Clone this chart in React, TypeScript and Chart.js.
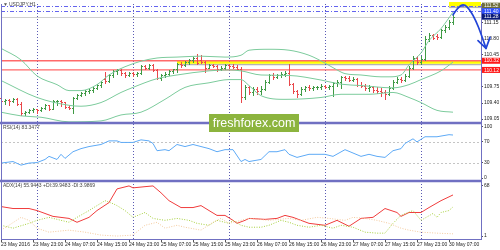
import React, { useEffect, useRef } from 'react';
import { Chart, registerables } from 'chart.js';

Chart.register(...registerables);

// ---------- time axis ----------
const tickBars = [0, 8, 16, 24, 32, 40, 48, 56, 64, 72, 80, 88, 96, 104, 112];
const tickLabels = ['23 May 2016', '23 May 23:00', '24 May 07:00', '24 May 15:00', '24 May 23:00', '25 May 07:00', '25 May 15:00', '25 May 23:00', '26 May 07:00', '26 May 15:00', '26 May 23:00', '27 May 07:00', '27 May 15:00', '27 May 23:00', '30 May 07:00'];
const separatorBars = [9, 33, 57, 81, 105];

// ---------- USDJPY H1 bars ----------
const opens = [109.51, 109.44, 109.47, 109.45, 109.49, 109.37, 109.18, 109.21, 109.25, 109.26, 109.24, 109.29, 109.35, 109.27, 109.44, 109.45, 109.42, 109.31, 109.30, 109.51, 109.58, 109.62, 109.66, 109.68, 109.73, 109.79, 109.92, 109.87, 110.00, 110.10, 110.12, 110.05, 110.01, 110.05, 110.03, 110.06, 110.20, 110.16, 110.22, 110.12, 109.95, 110.02, 110.04, 110.10, 110.13, 110.24, 110.22, 110.29, 110.33, 110.38, 110.33, 110.30, 110.17, 110.22, 110.21, 110.13, 110.17, 110.23, 110.21, 110.18, 110.15, 109.53, 109.74, 109.64, 109.70, 109.66, 109.71, 109.86, 110.00, 109.96, 110.00, 110.04, 110.06, 109.82, 109.66, 109.60, 109.71, 109.75, 109.72, 109.74, 109.75, 109.78, 109.74, 109.78, 109.84, 109.86, 109.96, 109.95, 109.91, 109.93, 109.80, 109.78, 109.72, 109.75, 109.68, 109.66, 109.63, 109.60, 109.73, 109.86, 109.92, 109.90, 109.99, 110.17, 110.38, 110.30, 110.36, 110.80, 110.88, 110.86, 110.83, 110.98, 111.06, 111.16];
const highs = [109.53, 109.49, 109.49, 109.51, 109.50, 109.42, 109.23, 109.27, 109.29, 109.27, 109.31, 109.37, 109.36, 109.47, 109.47, 109.46, 109.43, 109.36, 109.53, 109.60, 109.64, 109.68, 109.70, 109.75, 109.81, 109.88, 110.08, 110.03, 110.12, 110.14, 110.14, 110.08, 110.07, 110.08, 110.07, 110.23, 110.22, 110.25, 110.24, 110.13, 110.04, 110.07, 110.12, 110.15, 110.27, 110.30, 110.32, 110.36, 110.41, 110.47, 110.45, 110.32, 110.24, 110.24, 110.22, 110.20, 110.25, 110.26, 110.25, 110.22, 110.19, 109.79, 109.78, 109.75, 109.74, 109.76, 109.90, 110.03, 110.06, 110.04, 110.07, 110.10, 110.25, 109.84, 109.68, 109.74, 109.78, 109.79, 109.77, 109.78, 109.81, 109.80, 109.80, 109.86, 109.90, 109.99, 109.99, 109.98, 109.96, 109.94, 109.86, 109.82, 109.79, 109.78, 109.74, 109.72, 109.69, 109.76, 109.90, 109.96, 109.96, 110.03, 110.20, 110.42, 110.43, 110.42, 110.86, 110.92, 110.90, 110.90, 111.02, 111.10, 111.20, 111.35];
const lows = [109.38, 109.38, 109.36, 109.42, 109.35, 109.13, 109.14, 109.19, 109.21, 109.19, 109.22, 109.26, 109.24, 109.26, 109.36, 109.34, 109.29, 109.27, 109.18, 109.49, 109.55, 109.58, 109.62, 109.65, 109.70, 109.75, 109.84, 109.86, 109.97, 110.03, 110.02, 109.97, 109.98, 109.98, 109.99, 110.04, 110.14, 110.14, 110.10, 109.92, 109.90, 109.97, 110.01, 110.05, 110.08, 110.19, 110.20, 110.25, 110.30, 110.25, 110.27, 110.08, 110.16, 110.18, 110.10, 110.11, 110.15, 110.17, 110.16, 110.13, 109.42, 109.48, 109.60, 109.57, 109.60, 109.60, 109.68, 109.84, 109.93, 109.94, 109.97, 109.98, 109.80, 109.62, 109.52, 109.57, 109.66, 109.68, 109.69, 109.70, 109.71, 109.72, 109.71, 109.56, 109.78, 109.72, 109.90, 109.88, 109.88, 109.77, 109.74, 109.68, 109.66, 109.64, 109.62, 109.56, 109.48, 109.58, 109.70, 109.84, 109.86, 109.87, 109.97, 110.15, 110.24, 110.26, 110.33, 110.76, 110.79, 110.80, 110.82, 110.94, 111.02, 111.12];
const closes = [109.44, 109.47, 109.45, 109.49, 109.37, 109.18, 109.21, 109.25, 109.26, 109.24, 109.29, 109.35, 109.27, 109.44, 109.45, 109.42, 109.31, 109.30, 109.51, 109.58, 109.62, 109.66, 109.68, 109.73, 109.79, 109.86, 109.87, 110.00, 110.10, 110.12, 110.05, 110.01, 110.05, 110.03, 110.06, 110.20, 110.16, 110.22, 110.12, 109.95, 110.02, 110.04, 110.10, 110.13, 110.24, 110.22, 110.29, 110.33, 110.38, 110.28, 110.30, 110.17, 110.22, 110.21, 110.13, 110.17, 110.23, 110.21, 110.18, 110.15, 109.53, 109.74, 109.64, 109.70, 109.66, 109.71, 109.86, 110.00, 109.96, 110.00, 110.04, 110.06, 109.82, 109.66, 109.60, 109.71, 109.75, 109.72, 109.74, 109.75, 109.78, 109.74, 109.78, 109.84, 109.86, 109.96, 109.95, 109.91, 109.93, 109.80, 109.78, 109.72, 109.75, 109.68, 109.66, 109.63, 109.60, 109.73, 109.86, 109.92, 109.90, 109.99, 110.17, 110.38, 110.30, 110.35, 110.80, 110.88, 110.82, 110.83, 110.98, 111.06, 111.16, 111.28];

// ---------- Bollinger bands ----------
const upperBars = [0, 5, 9, 14, 17, 20, 24, 27, 31, 35, 39, 44, 50, 56, 60, 62, 67, 72, 77, 81, 84, 86, 90, 95, 97, 100, 102, 105, 107, 110, 113];
const upperValues = [110.59, 110.34, 109.99, 109.80, 109.67, 109.67, 109.80, 110.01, 110.19, 110.31, 110.38, 110.40, 110.42, 110.40, 110.44, 110.55, 110.57, 110.55, 110.44, 110.27, 110.12, 110.04, 110.01, 109.97, 109.97, 110.01, 110.23, 110.49, 110.76, 111.02, 111.38];
const middleBars = [0, 9, 17, 20, 25, 30, 33, 39, 44, 52, 57, 60, 65, 72, 80, 85, 90, 98, 102, 105, 110, 113];
const middleValues = [109.89, 109.52, 109.35, 109.33, 109.41, 109.63, 109.74, 109.93, 110.01, 110.10, 110.12, 110.10, 110.01, 110.00, 109.90, 109.81, 109.78, 109.73, 109.80, 109.91, 110.10, 110.29];
const lowerBars = [0, 5, 10, 17, 25, 30, 35, 41, 46, 52, 57, 60, 62, 65, 71, 80, 85, 92, 98, 102, 105, 109, 113];
const lowerValues = [109.20, 109.12, 109.09, 108.99, 109.01, 109.14, 109.20, 109.48, 109.74, 109.84, 109.91, 109.91, 109.78, 109.56, 109.48, 109.52, 109.59, 109.59, 109.63, 109.52, 109.41, 109.24, 109.20];

// ---------- RSI(14) ----------
const rsiBars = [0, 3, 5, 7, 9, 11, 12, 14, 15, 16, 18, 20, 22, 25, 27, 29, 30, 33, 35, 37, 38, 39, 41, 42, 44, 46, 48, 50, 52, 54, 56, 58, 60, 61, 62, 65, 67, 69, 71, 72, 74, 77, 79, 81, 83, 86, 90, 92, 94, 96, 98, 100, 101, 103, 104, 106, 109, 112, 113];
const rsiValues = [29, 32, 25, 29, 30, 36, 42, 36, 46, 38, 51, 57, 61, 65, 72, 72, 69, 69, 74, 72, 67, 53, 55, 53, 65, 61, 65, 61, 57, 51, 55, 55, 32, 36, 32, 36, 51, 51, 55, 46, 40, 46, 46, 46, 42, 55, 42, 46, 42, 40, 53, 57, 67, 76, 70, 80, 80, 84, 83.35];

// ---------- ADX(14) ----------
const adxBars = [0, 3, 7, 9, 11, 13, 17, 19, 22, 24, 27, 29, 32, 33, 36, 38, 40, 42, 45, 48, 50, 52, 54, 56, 58, 59, 61, 62, 66, 69, 71, 73, 77, 81, 84, 87, 90, 93, 96, 99, 100, 102, 105, 107, 110, 113];
const adxValues = [40.4, 37.8, 37.8, 35.1, 31.2, 27.3, 24.6, 19.4, 26, 35.1, 45.7, 64, 68, 65.4, 67, 68, 58.8, 48.3, 39.1, 39.1, 41.7, 35.1, 28.6, 28.6, 22, 18, 22, 24.6, 23.3, 24.6, 28.6, 26, 18, 15.4, 22, 14.1, 24.6, 26, 37.8, 32.5, 27.3, 32.5, 32.5, 39.1, 48.3, 55.94];
const pdiBars = [0, 3, 7, 9, 12, 17, 19, 22, 24, 26, 28, 29, 31, 33, 36, 38, 41, 44, 47, 49, 52, 54, 57, 58, 60, 62, 65, 67, 70, 72, 74, 77, 80, 83, 85, 88, 91, 94, 96, 98, 100, 103, 105, 108, 109, 110, 112, 113];
const pdiValues = [15.4, 11.5, 18, 22, 26, 19.4, 26, 35.1, 41.7, 48.3, 44.3, 41.7, 35.1, 26, 32.5, 24.6, 22, 24.6, 22, 18, 15.4, 22, 18, 22, 15.4, 12.8, 12.8, 15.4, 22, 19.4, 15.4, 12.8, 15.4, 11.5, 15.4, 12.8, 6.2, 4.9, 4.9, 18, 28.6, 35.1, 22, 31.2, 26, 32.5, 35.1, 39.95];
const mdiBars = [0, 2, 5, 7, 9, 12, 17, 21, 25, 29, 33, 36, 39, 41, 44, 46, 50, 53, 55, 57, 60, 62, 67, 72, 75, 79, 82, 86, 88, 91, 94, 97, 100, 102, 105, 109, 112, 113];
const mdiValues = [8.9, 15.4, 26, 22, 11.5, 6.2, 8.9, 6.2, 2.3, 1, 2.3, 15.4, 19.4, 11.5, 15.4, 12.8, 8.9, 19.4, 24.6, 18, 22, 24.6, 22, 24.6, 22, 26, 24.6, 22, 26, 24.6, 22, 18, 11.5, 8.9, 6.2, 4.9, 4.2, 3.99];

// ---------- axis ticks ----------
const priceTicks = [109.05, 109.40, 109.75, 110.10, 110.45, 110.80, 111.15];
const hiddenPriceTicks = [110.10];
const rsiTicks = [0, 30, 70, 100];
const rsiLevels = [70, 30];
const adxTicks = [1, 68];

// ---------- objects on the chart ----------
const redLevels = [110.32, 110.12];
const dashLevels = [111.52, 111.40];
const bidPrice = 111.28;
const zoneStartBars = [44, 112];
const zoneTops = [110.335, 111.60];
const zoneBottoms = [110.255, 111.50];
const arrowBars = [113, 114.25, 115.75, 117.25, 118.75, 120, 121.25];
const arrowPrices = [111.32, 111.49, 111.56, 111.43, 111.19, 110.91, 110.59];
const arrowHeadBars = [119.25, 121.25, 122.25];
const arrowHeadPrices = [110.76, 110.59, 110.83];

const symbolLabel = 'USDJPY,H1';
const rsiLabel = 'RSI(14) 83.3477';
const adxLabel = 'ADX(14) 55.9443 +DI:39.9483 -DI:3.9869';
const watermark = 'freshforex.com';

const FONT = '"Liberation Sans", "DejaVu Sans", sans-serif';
const frameColor = '#7070c2';
const bbColor = '#7ccb9c';

const mt4Plugin = {
  id: 'mt4',
  beforeDatasetsDraw(chart: any) {
    const { ctx, chartArea: a } = chart;
    const xs = chart.scales.x, yp = chart.scales.yPrice, yr = chart.scales.yRsi;
    const X = (b: number) => xs.getPixelForValue(b);
    const P = (v: number) => yp.getPixelForValue(v);
    ctx.save();
    // rectangles
    zoneStartBars.forEach((b, k) => {
      const x0 = Math.round(X(b));
      const t = P(zoneTops[k]);
      const bt = P(zoneBottoms[k]);
      ctx.fillStyle = 'rgba(130,130,130,0.6)';
      ctx.fillRect(x0, bt, a.right - x0, 1.5);
      ctx.fillStyle = '#ffff00';
      ctx.fillRect(x0, t, a.right - x0, bt - t);
    });
    // period separators
    ctx.lineWidth = 1;
    ctx.strokeStyle = '#5a5ab4';
    ctx.setLineDash([1, 2]);
    separatorBars.forEach((b) => {
      const px = Math.round(X(b)) + 0.5;
      ctx.beginPath();
      ctx.moveTo(px, a.top);
      ctx.lineTo(px, a.bottom);
      ctx.stroke();
    });
    // RSI levels
    ctx.strokeStyle = '#c4c4c4';
    ctx.setLineDash([2, 2]);
    rsiLevels.forEach((v) => {
      const py = Math.round(yr.getPixelForValue(v)) + 0.5;
      ctx.beginPath();
      ctx.moveTo(a.left, py);
      ctx.lineTo(a.right, py);
      ctx.stroke();
    });
    // dash-dot levels
    ctx.strokeStyle = '#6464ee';
    ctx.setLineDash([4, 2, 1, 2]);
    dashLevels.forEach((v) => {
      const py = Math.round(P(v)) + 0.5;
      ctx.beginPath();
      ctx.moveTo(a.left, py);
      ctx.lineTo(a.right, py);
      ctx.stroke();
    });
    ctx.setLineDash([]);
    // bid line
    ctx.strokeStyle = '#cfcfcf';
    {
      const py = Math.round(P(bidPrice)) + 0.5;
      ctx.beginPath();
      ctx.moveTo(a.left, py);
      ctx.lineTo(a.right, py);
      ctx.stroke();
    }
    // red levels
    ctx.strokeStyle = '#ff6a6a';
    ctx.lineWidth = 1.3;
    redLevels.forEach((v) => {
      const py = P(v);
      ctx.beginPath();
      ctx.moveTo(a.left, py);
      ctx.lineTo(a.right, py);
      ctx.stroke();
    });
    // OHLC bars
    for (let i = 0; i < closes.length; i++) {
      const px = Math.round(X(i));
      const yH = Math.round(P(highs[i]));
      const yL = Math.round(P(lows[i]));
      const yO = Math.round(P(opens[i]));
      const yC = Math.round(P(closes[i]));
      ctx.fillStyle = closes[i] > opens[i] ? '#3f9a45' : closes[i] < opens[i] ? '#e9474a' : '#404040';
      ctx.fillRect(px, yH, 1, Math.max(1, yL - yH + 1));
      ctx.fillRect(px - 1, yO, 1, 1);
      ctx.fillRect(px + 1, yC, 1, 1);
    }
    ctx.restore();
  },
  afterDraw(chart: any) {
    const { ctx, chartArea: a } = chart;
    const xs = chart.scales.x, yp = chart.scales.yPrice, yr = chart.scales.yRsi, ya = chart.scales.yAdx;
    const X = (b: number) => xs.getPixelForValue(b);
    const P = (v: number) => yp.getPixelForValue(v);
    ctx.save();
    // frame
    ctx.strokeStyle = frameColor;
    ctx.lineWidth = 1;
    ctx.beginPath();
    ctx.moveTo(a.left + 0.5, a.top);
    ctx.lineTo(a.left + 0.5, a.bottom);
    ctx.moveTo(a.right + 0.5, a.top);
    ctx.lineTo(a.right + 0.5, a.bottom);
    ctx.moveTo(a.left, a.bottom - 0.5);
    ctx.lineTo(a.right, a.bottom - 0.5);
    ctx.stroke();
    // pane separators
    ctx.lineWidth = 2.5;
    [yr.top, ya.top].forEach((t: number) => {
      ctx.beginPath();
      ctx.moveTo(0, t);
      ctx.lineTo(a.right + 1, t);
      ctx.stroke();
    });
    // labels
    ctx.font = '5px ' + FONT;
    ctx.textBaseline = 'middle';
    ctx.textAlign = 'left';
    ctx.fillStyle = '#555';
    ctx.fillText('\u25BC', 3, 5);
    ctx.fillStyle = '#444';
    ctx.fillText(symbolLabel, 9, 5);
    ctx.fillText(rsiLabel, 3, yr.top + 5);
    ctx.fillText(adxLabel, 3, ya.top + 5);
    // price boxes on the axis
    const box = (v: number, bg: string) => {
      const py = P(v);
      ctx.fillStyle = bg;
      ctx.fillRect(a.right + 1, py - 3, 500 - a.right, 6);
      ctx.fillStyle = '#ffffff';
      ctx.fillText(v.toFixed(2), a.right + 3, py + 0.3);
    };
    box(dashLevels[0], '#6e6e3c');
    box(dashLevels[1], '#2f50ff');
    box(bidPrice, '#0a1a78');
    redLevels.forEach((v) => box(v, '#ff1a1a'));
    // arrow
    ctx.strokeStyle = '#2244d8';
    ctx.lineWidth = 1.7;
    ctx.lineJoin = 'round';
    ctx.lineCap = 'round';
    ctx.beginPath();
    const ax = arrowBars.map(X);
    const ay = arrowPrices.map(P);
    ctx.moveTo(ax[0], ay[0]);
    for (let k = 1; k < ax.length - 1; k++) {
      const mx = (ax[k] + ax[k + 1]) / 2;
      const my = (ay[k] + ay[k + 1]) / 2;
      ctx.quadraticCurveTo(ax[k], ay[k], mx, my);
    }
    ctx.lineTo(ax[ax.length - 1], ay[ay.length - 1]);
    ctx.stroke();
    ctx.beginPath();
    ctx.moveTo(X(arrowHeadBars[0]), P(arrowHeadPrices[0]));
    ctx.lineTo(X(arrowHeadBars[1]), P(arrowHeadPrices[1]));
    ctx.lineTo(X(arrowHeadBars[2]), P(arrowHeadPrices[2]));
    ctx.stroke();
    // watermark
    ctx.fillStyle = '#8cb43e';
    ctx.fillRect(209, 114, 90, 18);
    ctx.fillStyle = '#ffffff';
    ctx.font = '12.5px ' + FONT;
    ctx.textAlign = 'center';
    ctx.fillText(watermark, 254, 123.5);
    ctx.restore();
  },
};

const pts = (bars: number[], vals: number[]) => bars.map((b, i) => ({ x: b, y: vals[i] }));
const tickFont = { family: FONT, size: 5 };

export default function App() {
  const ref = useRef<HTMLCanvasElement>(null);
  useEffect(() => {
    document.body.style.margin = '0';
    const canvas = ref.current as HTMLCanvasElement;
    const lineBase = { pointRadius: 0, borderWidth: 1, fill: false };
    const chart = new Chart(canvas, {
      type: 'line',
      data: {
        datasets: [
          { ...lineBase, label: 'BB upper', data: pts(upperBars, upperValues), yAxisID: 'yPrice', borderColor: bbColor, cubicInterpolationMode: 'monotone' },
          { ...lineBase, label: 'BB middle', data: pts(middleBars, middleValues), yAxisID: 'yPrice', borderColor: bbColor, cubicInterpolationMode: 'monotone' },
          { ...lineBase, label: 'BB lower', data: pts(lowerBars, lowerValues), yAxisID: 'yPrice', borderColor: bbColor, cubicInterpolationMode: 'monotone' },
          { ...lineBase, label: 'RSI', data: pts(rsiBars, rsiValues), yAxisID: 'yRsi', borderColor: '#5eaaf6' },
          { ...lineBase, label: '-DI', data: pts(mdiBars, mdiValues), yAxisID: 'yAdx', borderColor: '#f3c99c', borderDash: [1, 1.5] },
          { ...lineBase, label: '+DI', data: pts(pdiBars, pdiValues), yAxisID: 'yAdx', borderColor: '#a6cf3c', borderDash: [1, 1.5] },
          { ...lineBase, label: 'ADX', data: pts(adxBars, adxValues), yAxisID: 'yAdx', borderColor: '#f03c3c' },
        ],
      } as any,
      options: {
        responsive: false,
        maintainAspectRatio: false,
        animation: false,
        events: [],
        layout: { padding: { left: 1, top: 0, right: 0, bottom: 0 } },
        plugins: { legend: { display: false }, tooltip: { enabled: false } },
        scales: {
          x: {
            type: 'linear', position: 'bottom', min: 0, max: 120,
            afterBuildTicks: (s: any) => { s.ticks = tickBars.map((v) => ({ value: v })); },
            afterFit: (s: any) => { s.height = 10; },
            ticks: {
              autoSkip: false, maxRotation: 0, minRotation: 0, align: 'start', padding: 0,
              font: tickFont, color: '#222',
              callback: (v: any) => { const k = tickBars.indexOf(Number(v)); return k >= 0 ? tickLabels[k] : ''; },
            },
            grid: { display: true, drawOnChartArea: false, drawTicks: true, tickLength: 2, color: '#555' },
            border: { display: false },
          },
          yPrice: {
            type: 'linear', position: 'right', stack: 'panes', stackWeight: 121,
            min: 108.965, max: 111.556,
            afterBuildTicks: (s: any) => { s.ticks = priceTicks.map((v) => ({ value: v })); },
            afterFit: (s: any) => { s.width = 19; },
            ticks: { font: tickFont, color: '#222', padding: 1, callback: (v: any) => (hiddenPriceTicks.includes(Number(v)) ? '' : Number(v).toFixed(2)) },
            grid: { display: true, drawOnChartArea: false, tickLength: 2, color: '#555' },
            border: { display: false },
          },
          yRsi: {
            type: 'linear', position: 'right', stack: 'panes', stackWeight: 59,
            min: -5.71, max: 106.67,
            afterBuildTicks: (s: any) => { s.ticks = rsiTicks.map((v) => ({ value: v })); },
            afterFit: (s: any) => { s.width = 19; },
            ticks: { font: tickFont, color: '#222', padding: 1, callback: (v: any) => String(v) },
            grid: { display: true, drawOnChartArea: false, tickLength: 2, color: '#555' },
            border: { display: false },
          },
          yAdx: {
            type: 'linear', position: 'right', stack: 'panes', stackWeight: 60,
            min: -4.26, max: 74.57,
            afterBuildTicks: (s: any) => { s.ticks = adxTicks.map((v) => ({ value: v })); },
            afterFit: (s: any) => { s.width = 19; },
            ticks: { font: tickFont, color: '#222', padding: 1, callback: (v: any) => String(v) },
            grid: { display: true, drawOnChartArea: false, tickLength: 2, color: '#555' },
            border: { display: false },
          },
        },
      } as any,
      plugins: [mt4Plugin],
    });
    return () => chart.destroy();
  }, []);
  return (
    <div style={{ width: 500, height: 250, background: '#fff' }}>
      <canvas ref={ref} width={500} height={250} style={{ display: 'block' }} />
    </div>
  );
}
